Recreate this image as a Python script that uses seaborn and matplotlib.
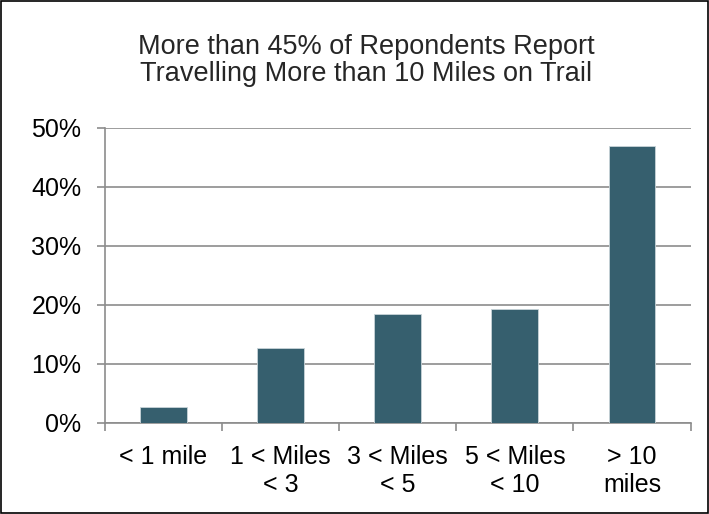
import matplotlib
matplotlib.use("Agg")
import matplotlib.pyplot as plt
import seaborn as sns
import pandas as pd
from matplotlib.ticker import FuncFormatter, FixedLocator
from matplotlib.patches import Rectangle

categories = ["< 1 mile", "1 < Miles\n< 3", "3 < Miles\n< 5", "5 < Miles\n< 10", "> 10\nmiles"]
shares = [2.6, 12.6, 18.4, 19.2, 47.0]
title = "More than 45% of Repondents Report\nTravelling More than 10 Miles on Trail"

sns.set_theme(style="white")
plt.rcParams["font.family"] = ["Liberation Sans", "DejaVu Sans"]

df = pd.DataFrame({"range": categories, "share": shares})

fig = plt.figure(figsize=(7.09, 5.14), dpi=100)
ax = fig.add_axes([0.148, 0.178, 0.826, 0.573])

sns.barplot(data=df, x="range", y="share", color="#365F6E", saturation=1,
            width=0.4, edgecolor="#c8d4d8", linewidth=0.6, ax=ax, zorder=3)

ax.set_ylim(0, 50)
ax.set_xlim(-0.5, 4.5)
ax.set_yticks(range(0, 51, 10))
ax.yaxis.set_major_formatter(FuncFormatter(lambda v, p: f"{v:.0f}%"))
ax.grid(True, axis="y", color="#8c8c8c", linewidth=1.2, zorder=0)
ax.set_xlabel("")
ax.set_ylabel("")

for s in ["top", "right"]:
    ax.spines[s].set_visible(False)
for s in ["left", "bottom"]:
    ax.spines[s].set_color("#8c8c8c")
    ax.spines[s].set_linewidth(1.2)

for lab in ax.get_xticklabels():
    lab.set_linespacing(1.2)
ax.tick_params(axis="x", which="major", length=0, pad=16, labelsize=18, colors="black")
ax.xaxis.set_minor_locator(FixedLocator([-0.5, 0.5, 1.5, 2.5, 3.5, 4.5]))
ax.tick_params(axis="x", which="minor", length=6, width=1.2, color="#8c8c8c", direction="out", bottom=True)
ax.tick_params(axis="y", length=6, width=1.2, color="#8c8c8c", direction="out", left=True,
               labelsize=18, labelcolor="black", pad=11)

fig.text(0.517, 0.882, title, ha="center", va="center", fontsize=19.5, linespacing=1.05)

fig.patches.append(Rectangle((0.001, 0.001), 0.997, 0.997, transform=fig.transFigure,
                             fill=False, edgecolor="black", linewidth=1.2))

fig.savefig("out.png", dpi=100)
